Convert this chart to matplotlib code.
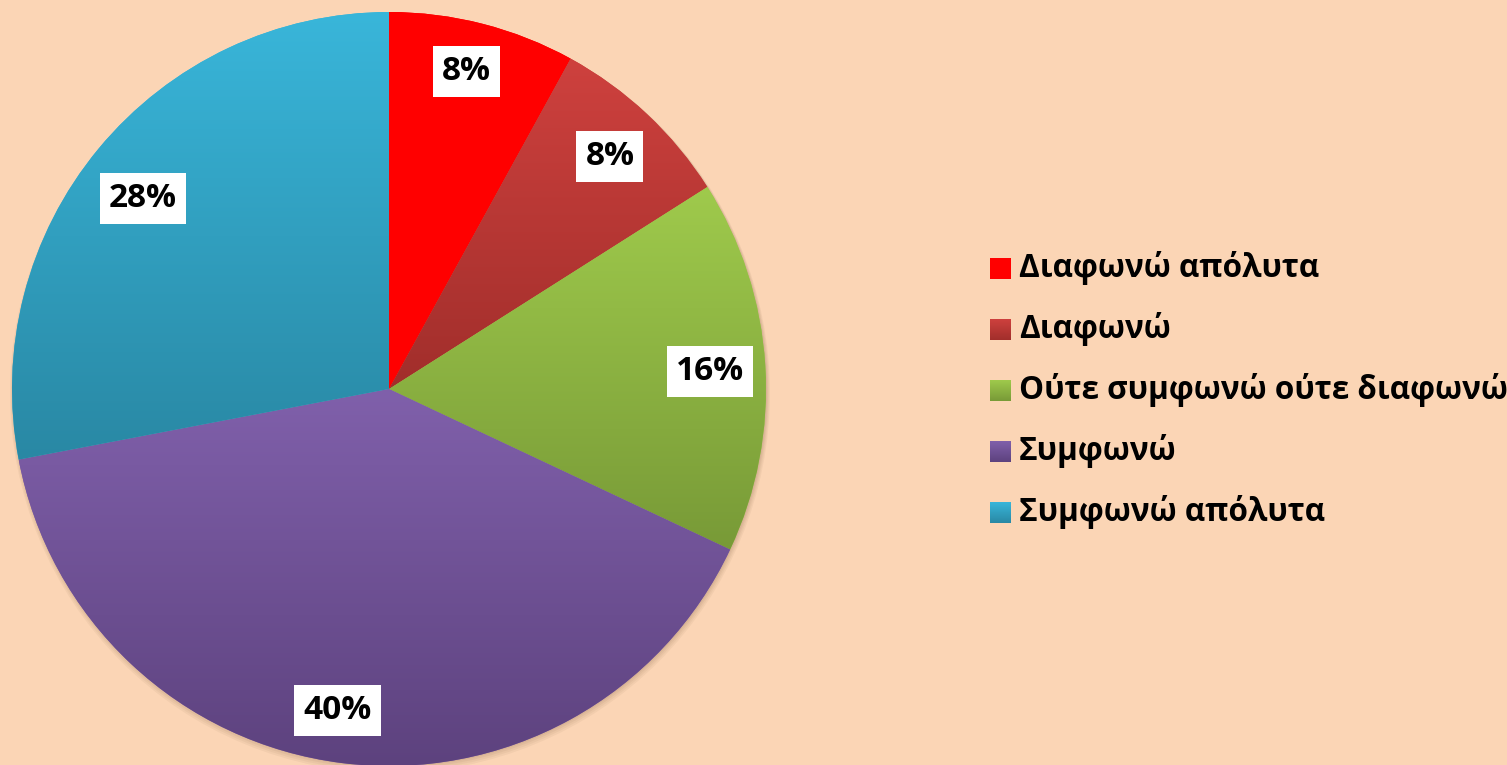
import numpy as np
import matplotlib
matplotlib.use("Agg")
import matplotlib.pyplot as plt
from matplotlib.colors import to_rgb
from matplotlib.patches import Circle

categories = ["Διαφωνώ απόλυτα", "Διαφωνώ", "Ούτε συμφωνώ ούτε διαφωνώ", "Συμφωνώ", "Συμφωνώ απόλυτα"]
values = [8, 8, 16, 40, 28]
top_colors = ["#FF0000", "#CE413E", "#9FCA4C", "#8060AB", "#39B6DA"]
bottom_colors = ["#FF0000", "#A12E2B", "#789A37", "#5D427E", "#2988A4"]

BG = "#FBD5B5"
W, H = 1507, 765
fig = plt.figure(figsize=(W / 100, H / 100), dpi=100, facecolor=BG)
ax = fig.add_axes([0, 0, 1, 1])
ax.set_xlim(0, W)
ax.set_ylim(0, H)
ax.set_aspect("equal")
ax.axis("off")
ax.set_facecolor(BG)

cx, cy, R = 389, H - 389, 377
label_dist = [0.874, 0.856, 0.852, 0.855, 0.83]
label_ang_shift = [0.8, 0.0, 0.0, -2.0, 1.5]

# soft shadow
for i, a in enumerate([0.05, 0.05, 0.06, 0.07]):
    ax.add_patch(Circle((cx + 1, cy - 4 + i), R + 3 - i, facecolor="#5a3a20", alpha=a,
                        edgecolor="none", zorder=0))


def grad_img(c1, c2, n=256):
    a = np.array(to_rgb(c1)); b = np.array(to_rgb(c2))
    t = np.linspace(0, 1, n)[:, None]
    return (a * (1 - t) + b * t)[:, None, :]


wedges, texts, autotexts = ax.pie(
    values, colors=top_colors, startangle=90, counterclock=False,
    center=(cx, cy), radius=R, autopct=lambda p: f"{p:.0f}%", pctdistance=0.855,
    wedgeprops=dict(linewidth=0), frame=True,
    textprops=dict(fontsize=24, fontweight="bold", family="Open Sans", color="black"))
ax.set_xlim(0, W)
ax.set_ylim(0, H)
ax.axis("off")

fig.canvas.draw()
for w, c1, c2 in zip(wedges, top_colors, bottom_colors):
    bb = w.get_path().get_extents(w.get_patch_transform())
    img = ax.imshow(grad_img(c1, c2), extent=[bb.x0, bb.x1, bb.y0, bb.y1],
                    origin="upper", aspect="auto", zorder=2, interpolation="bilinear")
    img.set_clip_path(w)

for t, w, d, s in zip(autotexts, wedges, label_dist, label_ang_shift):
    ang = np.deg2rad((w.theta1 + w.theta2) / 2 + s)
    t.set_position((cx + d * R * np.cos(ang), cy + d * R * np.sin(ang) - 3))
    t.set_zorder(5)
    t.set_bbox(dict(facecolor="white", edgecolor="none", pad=6.5))

# legend (manual)
ys = [268, 329, 390, 451, 512]
for lab, c1, c2, y in zip(categories, top_colors, bottom_colors, ys):
    yy = H - y
    ax.imshow(grad_img(c1, c2), extent=[990, 1011, yy - 10.5, yy + 10.5], origin="upper",
              aspect="auto", zorder=3, interpolation="bilinear")
    ax.text(1019, yy, lab, fontsize=22.7, fontweight="bold", family="Open Sans",
            va="center", ha="left", color="black", zorder=4)

ax.set_xlim(0, W)
ax.set_ylim(0, H)
fig.savefig("out.png", dpi=100, facecolor=BG)
